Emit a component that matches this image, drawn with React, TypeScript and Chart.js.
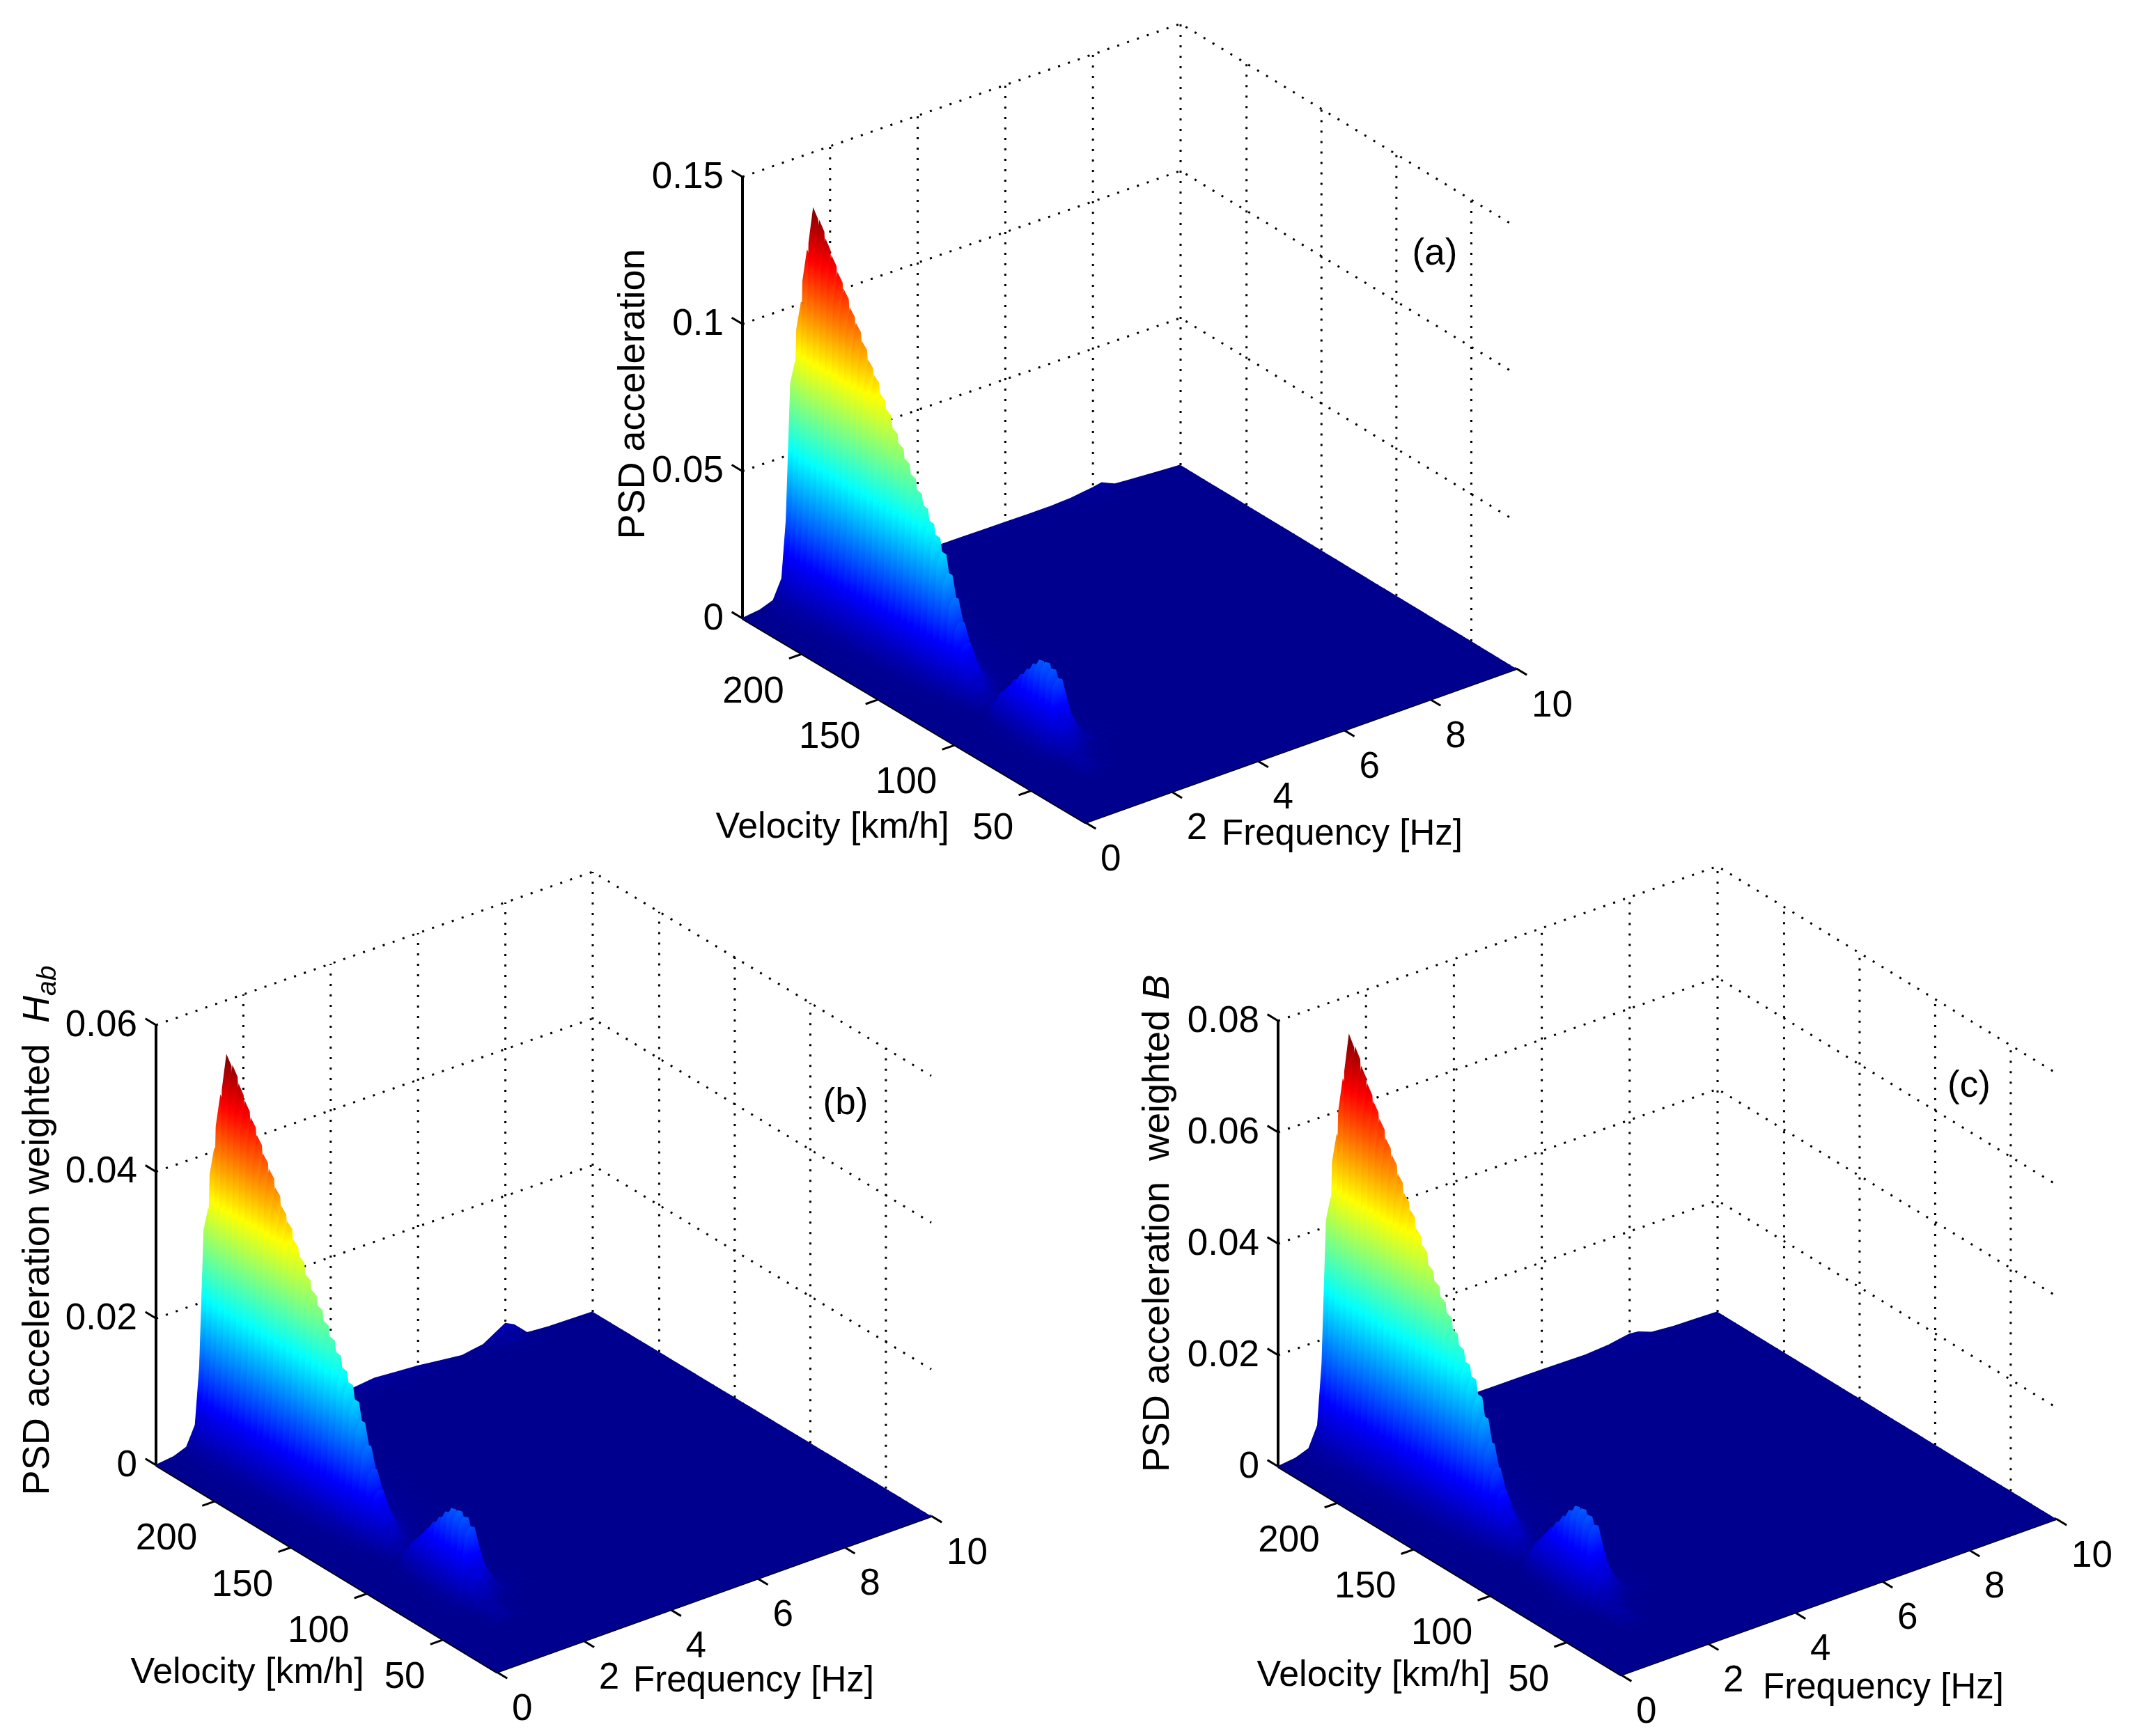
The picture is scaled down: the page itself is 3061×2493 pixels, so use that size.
import React, { useEffect, useRef } from "react";
import { Chart, registerables } from "chart.js";

Chart.register(...registerables);

const FREQUENCIES = [0, 0.4, 0.7, 0.9, 1, 1.1, 1.2, 1.3, 1.5, 1.8, 2.2, 3, 4, 5, 6, 7, 7.5, 8, 8.2, 8.5, 9, 10];
const VELOCITIES = [239, 235, 231, 227, 223, 219, 215, 211, 207, 203, 199, 195, 191, 187, 183, 179, 175, 171, 167, 163, 159, 155, 151, 147, 143, 139, 135, 131, 127, 123, 119, 115, 111, 107, 103, 99, 95, 91, 87, 83, 79, 75, 71, 67, 63, 59, 55, 51, 47, 43, 39, 35, 31, 27, 23, 19, 15];
const FREQ_TICKS = [0, 2, 4, 6, 8, 10];
const VEL_TICKS = [50, 100, 150, 200];
const Z_TICKS_A = [0, 0.05, 0.1, 0.15];
const Z_TICKS_B = [0, 0.02, 0.04, 0.06];
const Z_TICKS_C = [0, 0.02, 0.04, 0.06, 0.08];
const Z_LABELS_A = ["0", "0.05", "0.1", "0.15"];
const Z_LABELS_B = ["0", "0.02", "0.04", "0.06"];
const Z_LABELS_C = ["0", "0.02", "0.04", "0.06", "0.08"];
const PSD_UNIT = 1e-4;

// one row per velocity, one column per frequency; missing columns are 0. Unit: 1e-4
const PSD_A = [
  [0,8,24,89,282,741,805,781,403,121,40,15,15,15,14,14,18,28,34,14,9],
  [0,10,31,112,357,938,1020,989,510,153,51,9,9,9,8,8,11,17,20,8,5],
  [0,12,36,133,424,1113,1210,1174,605,182,61,5,5,5,5,5,6,10,12,5,3],
  [0,14,41,150,478,1256,1365,1324,683,205,68,3,3,3,3,3,4,6,7,3,2],
  [0,13,40,147,467,1228,1335,1295,668,200,67,2,2,2,2,2,2,3,4,2,1],
  [0,13,39,141,450,1182,1285,1246,643,193,64,15],
  [0,12,37,136,434,1141,1240,1203,620,186,62,15],
  [0,12,36,131,418,1099,1195,1159,598,179,60,14],
  [0,12,35,127,403,1058,1150,1116,575,173,58,14],
  [0,11,33,121,385,1012,1100,1067,550,165,55,13],
  [0,11,32,117,371,975,1060,1028,530,159,53,13],
  [0,10,30,111,354,929,1010,980,505,152,51,12],
  [0,10,29,106,336,883,960,931,480,144,48,12],
  [0,9,28,101,322,846,920,892,460,138,46,11],
  [0,9,26,96,305,800,870,844,435,131,44,10],
  [0,8,25,91,291,764,830,805,415,125,42,10],
  [0,8,23,86,273,718,780,757,390,117,39,9],
  [0,7,22,81,259,681,740,718,370,111,37,9],
  [0,7,21,77,245,644,700,679,350,105,35,8],
  [0,7,20,73,231,607,660,640,330,99,33,8],
  [0,6,19,68,217,570,620,601,310,93,31,7],
  [0,6,17,64,203,534,580,563,290,87,29,7],
  [0,5,16,59,189,497,540,524,270,81,27,6],
  [0,5,15,56,177,465,505,490,253,76,25,6],
  [0,5,14,51,161,423,460,446,230,69,23,6],
  [0,4,12,44,140,368,400,388,200,60,20,5],
  [0,3,10,36,116,304,330,320,165,50,17,4],
  [0,3,8,29,91,239,260,252,130,39,13,3],
  [0,2,6,22,70,184,200,194,100,30,10,2],
  [0,1,4,15,49,129,140,136,70,21,7,2],
  [0,1,3,10,32,83,90,87,45,14,5,1],
  [0,1,2,6,18,46,50,49,25,8,3,1],
  [0,0,1,2,7,18,20,19,10,3,1],
  [0,1,2,8,25,64,70,68,35,11,4],
  [0,1,3,12,39,101,110,107,55,17,6],
  [0,1,4,15,49,129,140,136,70,21,7],
  [0,2,5,19,61,161,175,170,88,26,9],
  [0,2,6,23,72,189,205,199,103,31,10],
  [0,2,7,26,82,216,235,228,118,35,12],
  [0,3,8,29,93,244,265,257,133,40,13],
  [0,3,9,32,102,267,290,281,145,44,15],
  [0,3,9,32,103,271,295,286,148,44,15],
  [0,3,9,31,100,262,285,276,143,43,14],
  [0,3,8,29,93,244,265,257,133,40,13],
  [0,1,4,14,46,120,130,126,65,20,7],
  [0,1,2,8,25,64,70,68,35,11,4],
  [0,0,1,4,14,37,40,39,20,6,2],
  [0,0,1,4,14,37,40,39,20,6,2],
  [0,0,1,3,11,28,30,29,15,5,2],
  [0,0,0,1,4,9,10,10,5,2,1],
  [0,0,0,1,2,5,5,5,3],
  [],
  [],
  [],
  [],
  [],
  [],
];

const PSD_B = [
  [0,3,10,36,113,298,324,314,162,49,16,8,7,14,10,3,8,26,20,3,1],
  [0,4,12,45,144,378,411,399,206,62,21,4,3,7,5,2,5,13,10,1],
  [0,5,15,54,171,449,488,473,244,73,24,2,1,3,2,1,2,6,5],
  [0,5,16,60,192,504,548,532,274,82,27,1,1,1,1,0,1,3,2],
  [0,5,16,59,188,495,538,522,269,81,27,6],
  [0,5,16,57,181,477,518,502,259,78,26,6],
  [0,5,15,55,175,460,500,485,250,75,25,6],
  [0,5,14,53,169,443,482,468,241,72,24,6],
  [0,5,14,51,162,426,463,449,232,69,23,6],
  [0,4,13,49,155,408,443,430,222,66,22,5],
  [0,4,13,47,149,393,427,414,214,64,21,5],
  [0,4,12,45,142,374,407,395,204,61,20,5],
  [0,4,12,43,135,356,387,375,194,58,19,5],
  [0,4,11,41,130,341,371,360,186,56,19,4],
  [0,4,11,39,123,323,351,340,176,53,18,4],
  [0,3,10,37,117,307,334,324,167,50,17,4],
  [0,3,9,35,110,289,314,305,157,47,16,4],
  [0,3,9,33,104,274,298,289,149,45,15,4],
  [0,3,8,31,99,259,282,274,141,42,14,3],
  [0,3,8,29,93,245,266,258,133,40,13,3],
  [0,3,8,28,88,230,250,243,125,38,13,3],
  [0,2,7,26,82,215,234,227,117,35,12,3],
  [0,2,7,24,76,201,218,211,109,33,11,3],
  [0,2,6,22,71,187,203,197,102,30,10,2],
  [0,2,6,20,65,170,185,179,93,28,9,2],
  [0,2,5,18,56,148,161,156,81,24,8,2],
  [0,1,4,15,47,122,133,129,67,20,7,2],
  [0,1,3,12,37,97,105,102,53,16,5,1],
  [0,1,2,9,28,75,81,79,41,12,4,1],
  [0,1,2,6,20,52,56,54,28,8,3,1],
  [0,0,1,4,13,33,36,35,18,5,2],
  [0,0,1,2,7,18,20,19,10,3,1],
  [0,0,0,1,3,7,8,8,4,1],
  [0,0,1,3,10,26,28,27,14,4,1],
  [0,0,1,5,15,40,44,43,22,7,2],
  [0,1,2,6,20,52,56,54,28,8,3],
  [0,1,2,8,25,64,70,68,35,11,4],
  [0,1,2,9,29,76,83,81,42,12,4],
  [0,1,3,10,33,87,95,92,48,14,5],
  [0,1,3,12,37,98,107,104,54,16,5],
  [0,1,4,13,41,108,117,113,59,18,6],
  [0,1,4,13,42,109,119,115,60,18,6],
  [0,1,3,13,40,106,115,112,58,17,6],
  [0,1,3,12,37,98,107,104,54,16,5],
  [0,1,2,6,18,48,52,50,26,8,3],
  [0,0,1,3,10,26,28,27,14,4,1],
  [0,0,0,2,6,15,16,16,8,2,1],
  [0,0,0,2,6,15,16,16,8,2,1],
  [0,0,0,1,4,11,12,12,6,2,1],
  [0,0,0,0,1,4,4,4,2,1],
  [0,0,0,0,1,2,2,2,1],
  [],
  [],
  [],
  [],
  [],
  [],
];

const PSD_C = [
  [0,4,13,49,157,412,448,435,224,67,22,7,7,7,7,6,9,16,14,5,2],
  [0,6,17,62,199,523,568,551,284,85,28,4,4,4,4,4,5,9,8,3,1],
  [0,7,20,74,236,620,674,654,337,101,34,3,3,3,3,2,3,5,4,2],
  [0,8,23,84,266,699,760,737,380,114,38,2,2,2,2,1,2,3,2,1],
  [0,7,22,82,260,684,744,722,372,112,37,1,1,1,1,1,1,1,1],
  [0,7,21,79,251,659,716,695,358,107,36,9],
  [0,7,21,76,242,636,691,670,346,104,35,8],
  [0,7,20,73,233,613,666,646,333,100,33,8],
  [0,6,19,71,224,590,641,622,321,96,32,8],
  [0,6,18,67,215,564,613,595,307,92,31,7],
  [0,6,18,65,207,543,590,572,295,89,30,7],
  [0,6,17,62,197,518,563,546,282,84,28,7],
  [0,5,16,59,187,492,535,519,268,80,27,6],
  [0,5,15,56,179,471,512,497,256,77,26,6],
  [0,5,15,53,170,446,485,470,243,73,24,6],
  [0,5,14,51,162,425,462,448,231,69,23,6],
  [0,4,13,48,152,399,434,421,217,65,22,5],
  [0,4,12,45,144,379,412,400,206,62,21,5],
  [0,4,12,43,137,359,390,378,195,59,20,5],
  [0,4,11,40,129,339,368,357,184,55,18,4],
  [0,3,10,38,121,317,345,335,173,52,17,4],
  [0,3,10,36,113,297,323,313,162,48,16,4],
  [0,3,9,33,105,277,301,292,151,45,15,4],
  [0,3,8,31,98,259,281,273,141,42,14,3],
  [0,3,8,28,90,236,256,248,128,38,13,3],
  [0,2,7,25,78,205,223,216,112,33,11,3],
  [0,2,6,20,64,169,184,178,92,28,9,2],
  [0,1,4,16,51,133,145,141,73,22,7,2],
  [0,1,3,12,39,102,111,108,56,17,6,1],
  [0,1,2,9,27,72,78,76,39,12,4,1],
  [0,1,2,6,18,46,50,49,25,8,3,1],
  [0,0,1,3,10,26,28,27,14,4,1],
  [0,0,0,1,4,10,11,11,6,2,1],
  [0,0,1,4,14,36,39,38,20,6,2],
  [0,1,2,7,21,56,61,59,31,9,3],
  [0,1,2,9,27,72,78,76,39,12,4],
  [0,1,3,11,34,89,97,94,49,15,5],
  [0,1,3,13,40,105,114,111,57,17,6],
  [0,1,4,14,46,121,131,127,66,20,7],
  [0,1,4,16,52,136,148,144,74,22,7],
  [0,2,5,18,57,149,162,157,81,24,8],
  [0,2,5,18,57,151,164,159,82,25,8],
  [0,2,5,17,56,146,159,154,80,24,8],
  [0,1,4,16,52,136,148,144,74,22,7],
  [0,1,2,8,25,66,72,70,36,11,4],
  [0,0,1,4,14,36,39,38,20,6,2],
  [0,0,1,2,8,20,22,21,11,3,1],
  [0,0,1,2,8,20,22,21,11,3,1],
  [0,0,1,2,6,16,17,16,9,3,1],
  [0,0,0,1,2,6,6,6,3,1],
  [0,0,0,0,1,3,3,3,2],
  [],
  [],
  [],
  [],
  [],
  [],
];

const FONT = '"Liberation Sans", Arial, sans-serif';
const TICK_SIZE = 53;
const VEL_SIZE = 52;
const FREQ_SIZE = 51;
const PSD_SIZE = 54;
const TEXT_DY = 4;
const V_MIN = 15;
const V_MAX = 239;
const WALL_TICK_SHIFT = -5;

type Seg = { t: string; italic?: boolean; sub?: boolean };
type Panel = {
  box: { x: number; y: number; w: number; h: number };
  front: number[];
  right: number[];
  left: number[];
  back: number[];
  topY: number;
  zMax: number;
  psd: number[][];
  zTicks: number[];
  zLabels: string[];
  velLabel: number[];
  freqLabel: number[];
  psdLabel: number[];
  psdText: Seg[];
  tag: string;
  tagAt: number[];
};

const PANELS: Panel[] = [
  {
    box: { x: 850, y: 0, w: 1450, h: 1290 },
    front: [1558, 1181], right: [2177, 960], left: [1066, 888], back: [1695, 668], topY: 254, zMax: 0.15,
    psd: PSD_A, zTicks: Z_TICKS_A, zLabels: Z_LABELS_A,
    velLabel: [1195, 1185], freqLabel: [1927, 1195], psdLabel: [910, 566],
    psdText: [{ t: "PSD acceleration" }], tag: "(a)", tagAt: [2060, 361],
  },
  {
    box: { x: 0, y: 1220, w: 1450, h: 1273 },
    front: [713, 2401], right: [1337, 2177], left: [224, 2104], back: [851, 1884], topY: 1472, zMax: 0.06,
    psd: PSD_B, zTicks: Z_TICKS_B, zLabels: Z_LABELS_B,
    velLabel: [355, 2399], freqLabel: [1082, 2411], psdLabel: [55, 1767],
    psdText: [{ t: "PSD acceleration weighted  " }, { t: "H", italic: true }, { t: "ab", italic: true, sub: true }],
    tag: "(b)", tagAt: [1214, 1581],
  },
  {
    box: { x: 1600, y: 1220, w: 1461, h: 1273 },
    front: [2327, 2405], right: [2952, 2181], left: [1835, 2106], back: [2466, 1884], topY: 1466, zMax: 0.08,
    psd: PSD_C, zTicks: Z_TICKS_C, zLabels: Z_LABELS_C,
    velLabel: [1972, 2403], freqLabel: [2704, 2421], psdLabel: [1663, 1757],
    psdText: [{ t: "PSD acceleration  weighted " }, { t: "B", italic: true }],
    tag: "(c)", tagAt: [2827, 1556],
  },
];

function project(p: Panel, f: number, v: number, z: number) {
  const a = f / 10;
  const b = (v - V_MIN) / (V_MAX - V_MIN);
  const m = (i: number) =>
    p.front[i] + a * (p.right[i] - p.front[i]) + b * (p.left[i] - p.front[i]) + a * b * (p.back[i] + p.front[i] - p.left[i] - p.right[i]);
  return { x: m(0), y: m(1) - (z / p.zMax) * (p.left[1] - p.topY) };
}

const JET: [number, string][] = [
  [0, "#00008f"], [0.125, "#0000ff"], [0.375, "#00ffff"], [0.625, "#ffff00"], [0.875, "#ff0000"], [1, "#800000"],
];

function buildDatasets(p: Panel) {
  const ds: any[] = [];
  const dotted = (data: any[]) =>
    ds.push({ data, showLine: true, pointRadius: 0, borderColor: "#000", borderWidth: 3, borderDash: [3, 12], fill: false });
  const solid = (data: any[], w = 3) =>
    ds.push({ data, showLine: true, pointRadius: 0, borderColor: "#000", borderWidth: w, fill: false });

  p.zTicks.filter((z) => z > 0).forEach((z) =>
    dotted([project(p, 0, V_MAX, z), project(p, 10, V_MAX, z), project(p, 10, V_MIN, z)])
  );
  const zTop = p.zTicks[p.zTicks.length - 1];
  FREQ_TICKS.filter((f) => f > 0).forEach((f) => dotted([project(p, f, V_MAX, 0), project(p, f, V_MAX, zTop)]));
  VEL_TICKS.forEach((v) => dotted([project(p, 10, v + WALL_TICK_SHIFT, 0), project(p, 10, v + WALL_TICK_SHIFT, zTop)]));

  solid([project(p, 0, V_MAX, 0), project(p, 0, V_MAX, zTop)], 4);
  solid([project(p, 0, V_MAX, 0), project(p, 0, V_MIN, 0), project(p, 10, V_MIN, 0)], 4);
  p.zTicks.forEach((z) => solid([project(p, 0, V_MAX, z), project(p, 0, V_MAX + 7, z)]));
  VEL_TICKS.forEach((v) => solid([project(p, 0, v, 0), project(p, -0.3, v, 0)]));
  FREQ_TICKS.forEach((f) => solid([project(p, f, V_MIN, 0), project(p, f, V_MIN - 7, 0)]));

  // the floor of the surface
  ds.push({
    data: [project(p, 0, V_MAX, 0), project(p, 10, V_MAX, 0), project(p, 10, V_MIN, 0), project(p, 0, V_MIN, 0), project(p, 0, V_MAX, 0)],
    showLine: true, pointRadius: 0, borderWidth: 0, tension: 0.001, backgroundColor: JET[0][1], fill: "shape",
  });

  const peak = Math.max(...p.psd.flat()) * PSD_UNIT;
  VELOCITIES.forEach((v, i) => {
    const row = p.psd[i] || [];
    const pts = FREQUENCIES.map((f, j) => project(p, f, v, (row[j] ?? 0) * PSD_UNIT));
    pts.push(project(p, 10, v, 0), project(p, 0, v, 0), pts[0]);
    // the scales map one reference pixel to one canvas pixel, offset by the panel's box
    const a = project(p, 0, v, 0);
    const b = project(p, 10, v, 0);
    const t = project(p, 0, v, peak);
    const dx = b.x - a.x;
    const dy = b.y - a.y;
    const len = Math.hypot(dx, dy) || 1;
    const nx = -dy / len;
    const ny = dx / len;
    const s = (t.x - a.x) * nx + (t.y - a.y) * ny;
    let cached: any = null;
    const paint = (c: any) => {
      if (cached) return cached;
      const x0 = a.x - p.box.x;
      const y0 = a.y - p.box.y;
      const g = c.chart.ctx.createLinearGradient(x0, y0, x0 + nx * s, y0 + ny * s);
      JET.forEach(([o, col]) => g.addColorStop(o, col));
      cached = g;
      return g;
    };
    ds.push({
      data: pts, showLine: true, pointRadius: 0, tension: 0.001, borderWidth: 1.5,
      backgroundColor: paint, borderColor: paint, fill: "shape",
    });
  });
  ds.forEach((d, i) => (d.order = -i));
  return ds;
}

function textPlugin(p: Panel) {
  return {
    id: "panelText",
    afterDatasetsDraw(chart: any) {
      const { ctx, scales } = chart;
      const X = (v: number) => scales.x.getPixelForValue(v);
      const Y = (v: number) => scales.y.getPixelForValue(v);
      const put = (t: string, x: number, y: number, align: CanvasTextAlign, size = TICK_SIZE) => {
        ctx.font = `${size}px ${FONT}`;
        ctx.textAlign = align;
        ctx.fillText(t, X(x), Y(y + TEXT_DY));
      };
      ctx.save();
      ctx.fillStyle = "#000";
      ctx.textBaseline = "middle";
      p.zTicks.forEach((z, i) => {
        const q = project(p, 0, V_MAX, z);
        put(p.zLabels[i], q.x - 27, q.y - 3, "right");
      });
      VEL_TICKS.forEach((v) => {
        const q = project(p, 0, v, 0);
        put(String(v), q.x - 26, q.y + 51, "right");
      });
      FREQ_TICKS.forEach((f) => {
        const q = project(p, f, V_MIN, 0);
        put(String(f), q.x + 22, q.y + 50, "left");
      });
      put("Velocity [km/h]", p.velLabel[0], p.velLabel[1], "center", VEL_SIZE);
      put("Frequency [Hz]", p.freqLabel[0], p.freqLabel[1], "center", FREQ_SIZE);
      put(p.tag, p.tagAt[0], p.tagAt[1], "center");

      const fontOf = (s: Seg) =>
        `${s.italic ? "italic " : ""}${s.sub ? Math.round(PSD_SIZE * 0.72) : PSD_SIZE}px ${FONT}`;
      const total = p.psdText.reduce((w, s) => {
        ctx.font = fontOf(s);
        return w + ctx.measureText(s.t).width;
      }, 0);
      ctx.translate(X(p.psdLabel[0]), Y(p.psdLabel[1]));
      ctx.rotate(-Math.PI / 2);
      ctx.textAlign = "left";
      let cursor = -total / 2;
      p.psdText.forEach((s) => {
        ctx.font = fontOf(s);
        ctx.fillText(s.t, cursor, s.sub ? 14 : 0);
        cursor += ctx.measureText(s.t).width;
      });
      ctx.restore();
    },
  };
}

function PanelChart({ panel }: { panel: Panel }) {
  const ref = useRef<HTMLCanvasElement>(null);
  useEffect(() => {
    const { box } = panel;
    const chart = new Chart(ref.current as HTMLCanvasElement, {
      type: "scatter",
      data: { datasets: buildDatasets(panel) },
      options: {
        responsive: false,
        animation: false,
        devicePixelRatio: 1,
        events: [],
        layout: { padding: 0 },
        plugins: { legend: { display: false }, tooltip: { enabled: false }, filler: { drawTime: "beforeDatasetDraw" } as any },
        scales: {
          x: { type: "linear", display: false, min: box.x, max: box.x + box.w },
          y: { type: "linear", display: false, reverse: true, min: box.y, max: box.y + box.h },
        },
      },
      plugins: [textPlugin(panel)],
    } as any);
    return () => chart.destroy();
  }, [panel]);
  const { box } = panel;
  return (
    <canvas
      ref={ref}
      width={box.w}
      height={box.h}
      style={{ position: "absolute", left: box.x, top: box.y, width: box.w, height: box.h }}
    />
  );
}

export default function App() {
  return (
    <div style={{ position: "absolute", left: 0, top: 0, width: 3061, height: 2493, background: "#fff", overflow: "hidden" }}>
      {PANELS.map((p) => (
        <PanelChart key={p.tag} panel={p} />
      ))}
    </div>
  );
}
